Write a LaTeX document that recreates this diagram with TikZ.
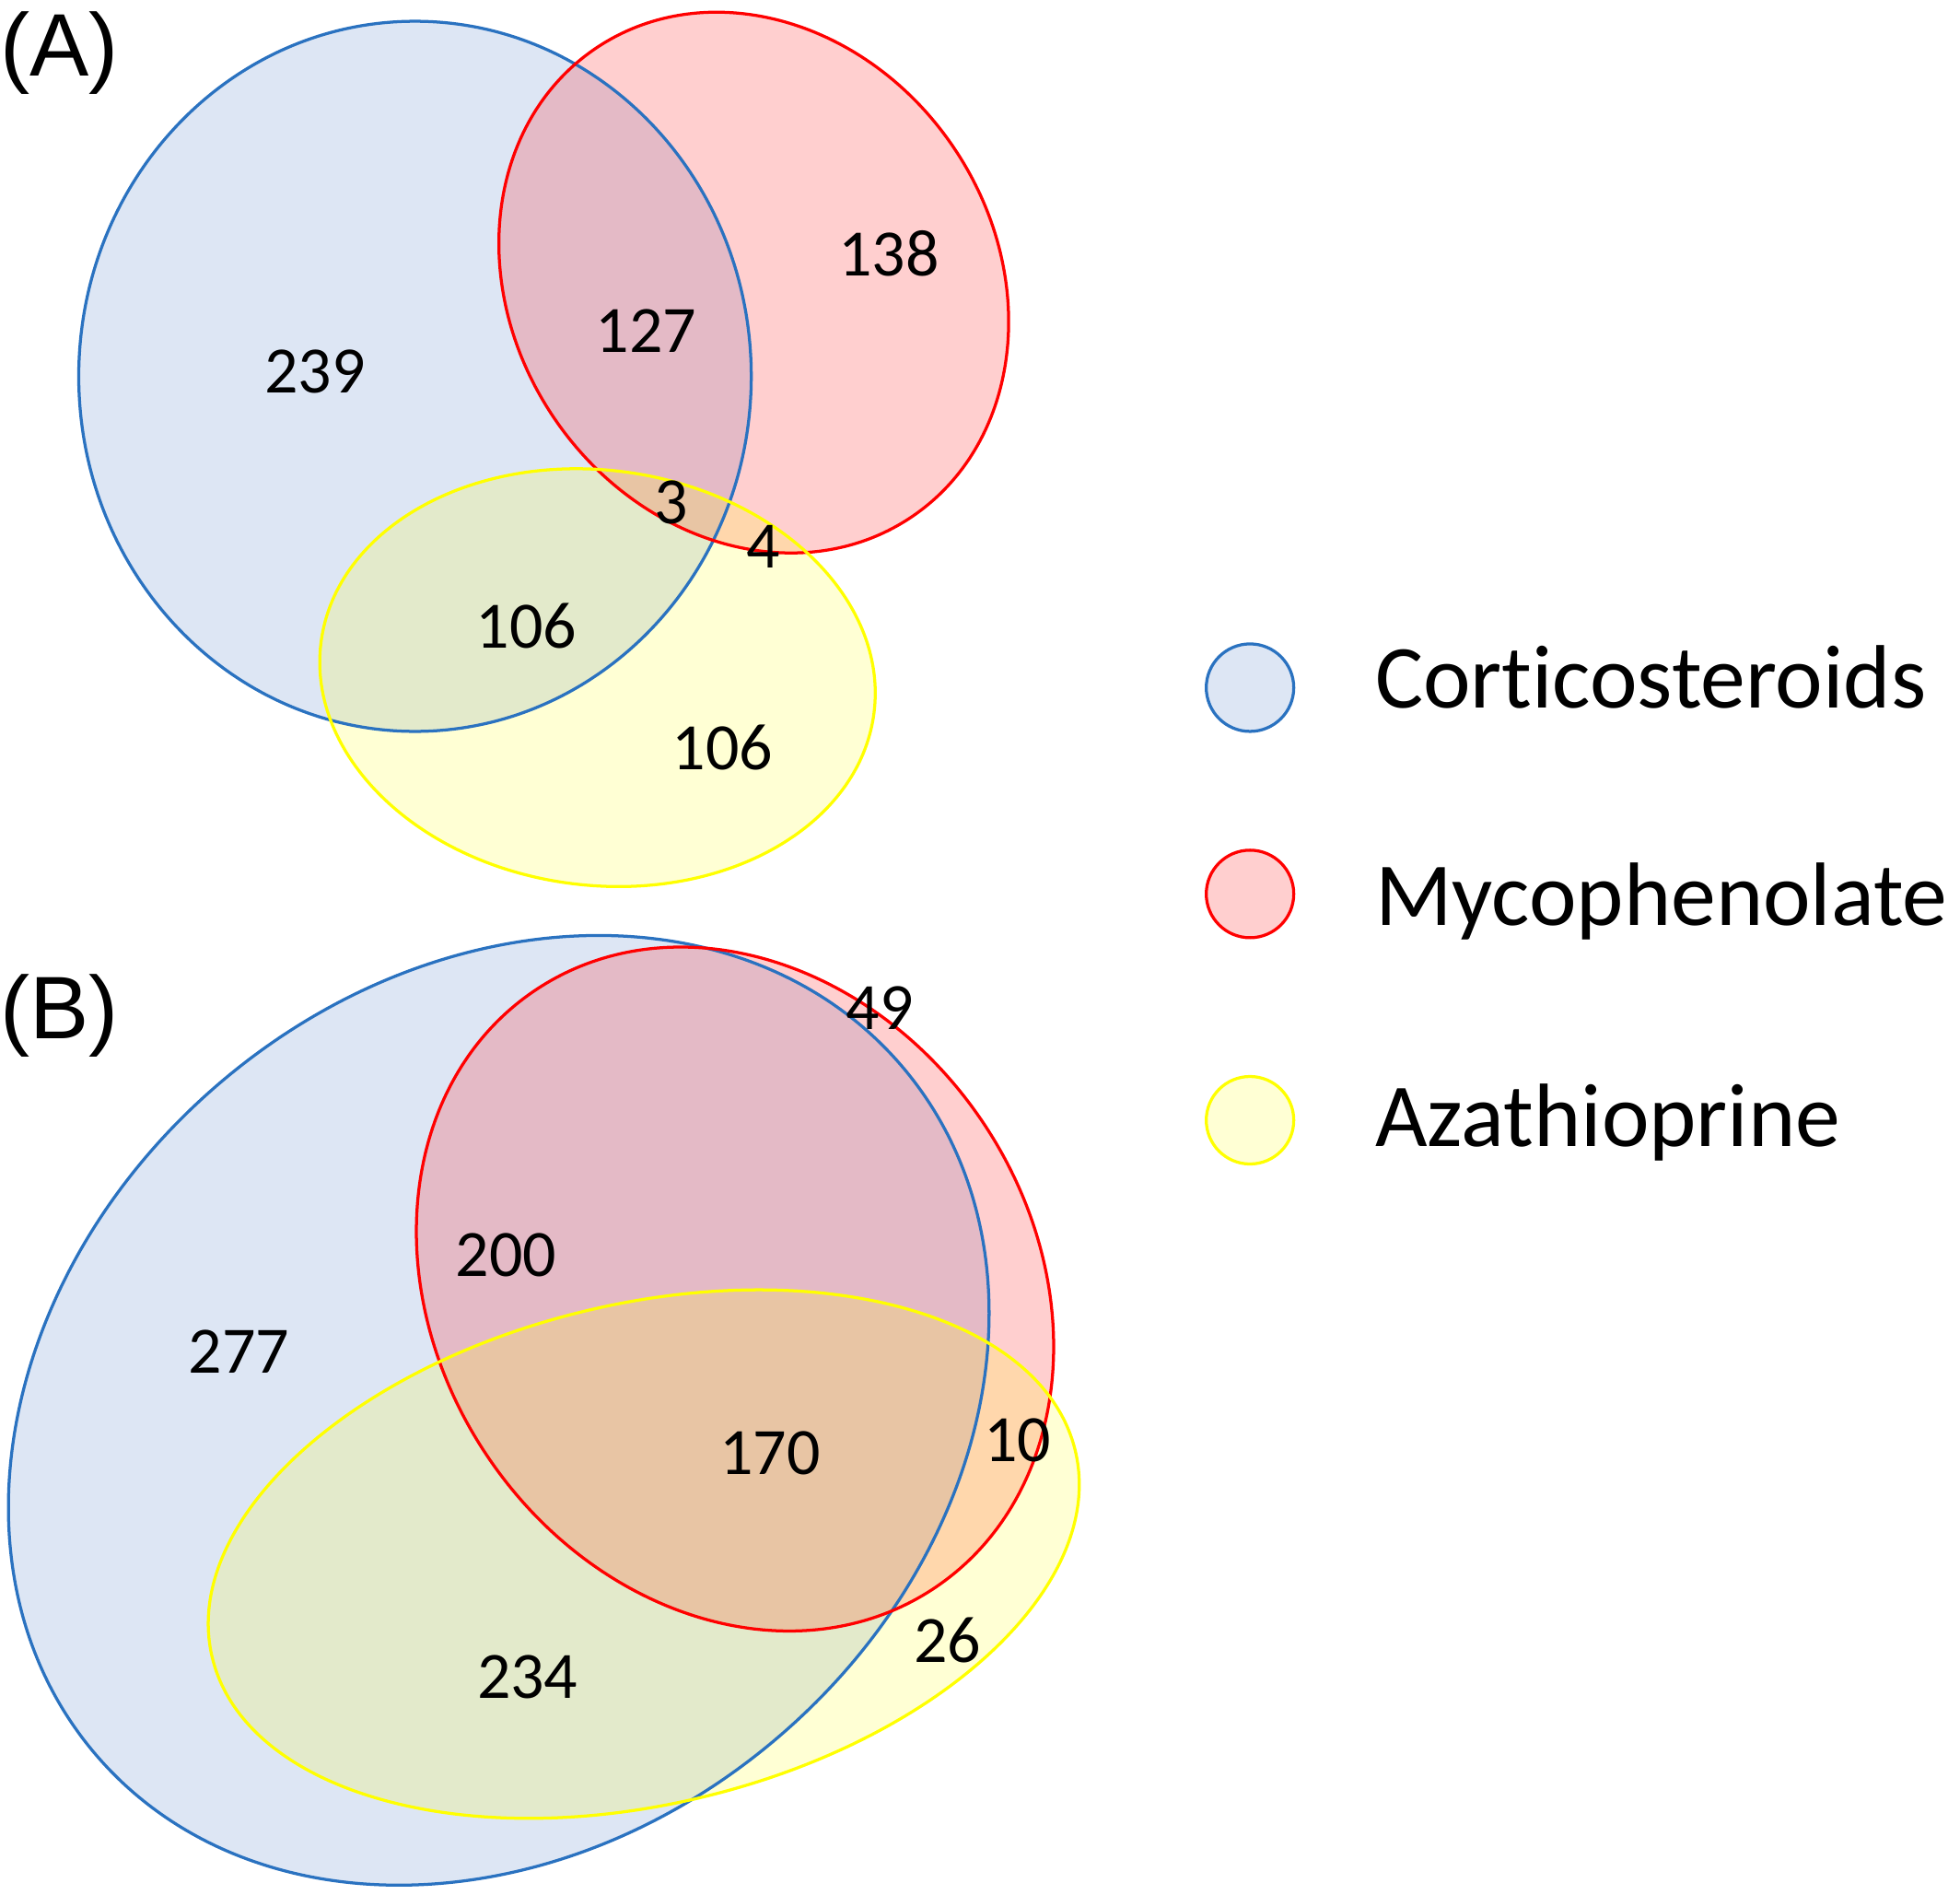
\documentclass[tikz,border=0pt]{standalone}
\usepackage{fontspec}
\setmainfont[RawFeature={-liga;-clig;-calt;-dlig}]{Carlito}
\newfontfamily\arialf{Liberation Sans}
\definecolor{bstroke}{HTML}{2A72C0}
\definecolor{bfill}{HTML}{4472C4}
\definecolor{rstroke}{HTML}{FF0000}
\definecolor{ystroke}{HTML}{FFFF00}
\begin{document}
\begin{tikzpicture}[x=1pt,y=-1pt,
  fb/.style={fill=bfill, fill opacity=0.18},
  fr/.style={fill=rstroke, fill opacity=0.19},
  fy/.style={fill=ystroke, fill opacity=0.17},
  sb/.style={draw=bstroke, line width=2.4pt},
  sr/.style={draw=rstroke, line width=2.4pt},
  sy/.style={draw=ystroke, line width=2.4pt},
  num/.style={font=\fontsize{53}{53}\selectfont, inner sep=0pt, anchor=center},
  leg/.style={font=\fontsize{72}{72}\selectfont, inner sep=0pt, anchor=base west},
  panel/.style={font=\arialf\fontsize{71}{71}\selectfont, inner sep=0pt, anchor=base west}]
\useasboundingbox (0,0) rectangle (1568,1515);
% ---------- panel A ----------
\path[fb] (332,301) ellipse [x radius=269, y radius=284];
\path[fr, rotate around={-56:(603,226)}] (603,226) ellipse [x radius=226, y radius=193];
\path[fy, rotate around={-7.3:(478,542)}] (478,542) ellipse [x radius=223, y radius=166];
\path[sb] (332,301) ellipse [x radius=269, y radius=284];
\path[sr, rotate around={-56:(603,226)}] (603,226) ellipse [x radius=226, y radius=193];
\path[sy, rotate around={-7.3:(478,542)}] (478,542) ellipse [x radius=223, y radius=166];
% ---------- panel B ----------
\path[fb, rotate around={40.5:(399,1128)}] (399,1128) ellipse [x radius=424, y radius=344];
\path[fr, rotate around={-56.3:(588,1031)}] (588,1031) ellipse [x radius=287.5, y radius=239];
\path[fy, rotate around={13.45:(515,1243)}] (515,1243) ellipse [x radius=355, y radius=200];
\path[sb, rotate around={40.5:(399,1128)}] (399,1128) ellipse [x radius=424, y radius=344];
\path[sr, rotate around={-56.3:(588,1031)}] (588,1031) ellipse [x radius=287.5, y radius=239];
\path[sy, rotate around={13.45:(515,1243)}] (515,1243) ellipse [x radius=355, y radius=200];
% ---------- legend ----------
\path[fb, sb] (1000,550) circle [radius=35];
\path[fr, sr] (1000,715) circle [radius=35];
\path[fy, sy] (1000,896) circle [radius=35];
\node[leg] (lc) at (1100,566) {Corticosteroids};
\node[leg] (lm) at (1100,740) {Mycophenolate};
\node[leg] (la) at (1100,917) {Azathioprine};
% ---------- panel labels ----------
\node[panel] (pa) at (0,61) {(A)};
\node[panel] (pb) at (0,831) {(B)};
% ---------- counts A ----------
\node[num] (a239) at (252,297) {239};
\node[num] (a127) at (517,265) {127};
\node[num] (a138) at (711,203) {138};
\node[num] (a3) at (537,402) {3};
\node[num] (a4) at (611,437) {4};
\node[num] (a106a) at (421,501) {106};
\node[num] (a106b) at (578,598) {106};
% ---------- counts B ----------
\node[num] (b49) at (704,806) {49};
\node[num] (b200) at (405,1004) {200};
\node[num] (b277) at (191,1081) {277};
\node[num] (b170) at (616,1162) {170};
\node[num] (b10) at (814,1152) {10};
\node[num] (b26) at (758,1312) {26};
\node[num] (b234) at (422,1341) {234};
\end{tikzpicture}
\end{document}
